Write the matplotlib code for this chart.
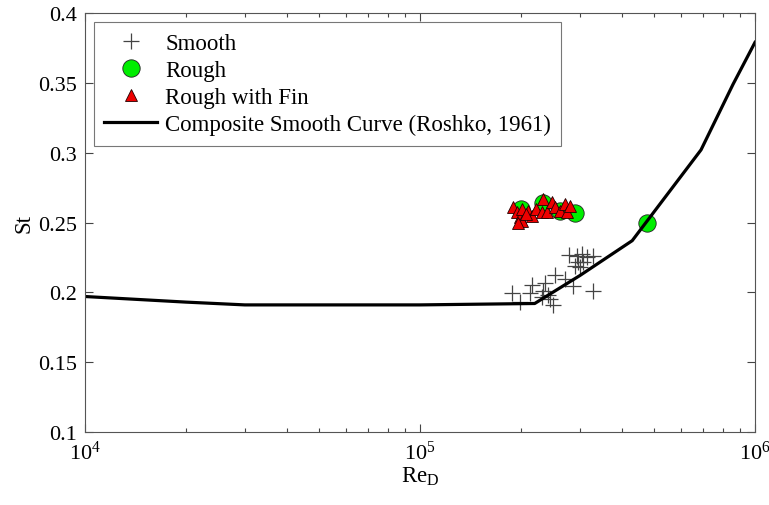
import numpy as np
import matplotlib
matplotlib.use('Agg')
import matplotlib.pyplot as plt
from matplotlib.ticker import LogLocator, NullFormatter, FixedLocator

plt.rcParams['font.family'] = ['Liberation Serif', 'DejaVu Serif']
plt.rcParams['mathtext.fontset'] = 'custom'
plt.rcParams['mathtext.rm'] = 'Liberation Serif'
plt.rcParams['mathtext.it'] = 'Liberation Serif:italic'

# Roshko (1961) composite smooth curve
curve_re = [1e4, 2e4, 3e4, 1e5, 2.2e5, 3e5, 4.3e5, 6.9e5, 8.6e5, 1e6]
curve_st = [0.197, 0.193, 0.191, 0.191, 0.192, 0.212, 0.237, 0.302, 0.349, 0.379]

# smooth cylinder
smooth_re = [1.88e5, 1.99e5, 2.16e5, 2.13e5, 2.36e5, 2.33e5, 2.41e5, 2.31e5, 2.49e5, 2.53e5,
             2.71e5, 2.86e5, 2.79e5, 2.94e5, 3.05e5, 3.15e5, 2.97e5, 3.07e5, 3.01e5, 2.90e5,
             3.28e5, 3.28e5, 2.44e5]
smooth_st = [0.1995, 0.1931, 0.2053, 0.1995, 0.2067, 0.2010, 0.1981, 0.1967, 0.1909, 0.2124,
             0.2095, 0.2045, 0.2267, 0.2260, 0.2274, 0.2253, 0.2217, 0.2217, 0.2181, 0.2188,
             0.2260, 0.2010, 0.1952]

# rough cylinder
rough_re = [2.0e5, 2.33e5, 2.62e5, 2.9e5, 4.75e5]
rough_st = [0.260, 0.264, 0.258, 0.257, 0.250]

# rough cylinder with fin
fin_re = [1.895e5, 1.948e5, 1.989e5, 2.016e5, 2.02e5, 2.10e5, 2.16e5, 2.22e5, 2.33e5, 2.31e5,
          2.39e5, 2.47e5, 2.53e5, 2.62e5, 2.71e5, 2.74e5, 2.81e5, 1.96e5, 2.07e5]
fin_st = [0.261, 0.2575, 0.254, 0.251, 0.2597, 0.258, 0.2546, 0.260, 0.2668, 0.2575,
          0.2575, 0.2647, 0.261, 0.258, 0.263, 0.2575, 0.2618, 0.2496, 0.256]

fig = plt.figure(figsize=(7.69, 5.06), dpi=100)
ax = fig.add_axes([0.1105, 0.1443, 0.8713, 0.828])

ax.plot(smooth_re, smooth_st, ls='none', marker='+', ms=11, mew=0.9, color='#444444', label='Smooth')
ax.plot(rough_re, rough_st, ls='none', marker='o', ms=12.5, mfc='#00ee00', mec='#222222', mew=0.6, label='Rough')
ax.plot(fin_re, fin_st, ls='none', marker='^', ms=8, mfc='#ee0000', mec='#220000', mew=0.6, label='Rough with Fin')
ax.plot(curve_re, curve_st, color='black', lw=2.3, label='Composite Smooth Curve (Roshko, 1961)')

ax.set_xscale('log')
ax.set_xlim(1e4, 1e6)
ax.set_ylim(0.1, 0.4)
ax.yaxis.set_major_locator(FixedLocator([0.1, 0.15, 0.2, 0.25, 0.3, 0.35, 0.4]))
ax.set_yticklabels(['0.1', '0.15', '0.2', '0.25', '0.3', '0.35', '0.4'])
ax.xaxis.set_major_locator(FixedLocator([1e4, 1e5, 1e6]))
ax.set_xticklabels([r'10$^{4}$', r'10$^{5}$', r'10$^{6}$'])
ax.xaxis.set_minor_locator(LogLocator(base=10, subs=np.arange(2, 10), numticks=20))
ax.xaxis.set_minor_formatter(NullFormatter())

ax.tick_params(which='both', direction='in', top=True, right=True, labelsize=16, colors='#444444', labelcolor='black')
ax.tick_params(which='major', length=6, width=0.8, pad=6)
ax.tick_params(which='minor', length=3, width=0.8)
for s in ax.spines.values():
    s.set_linewidth(0.8)
    s.set_color('#555555')

ax.set_xlabel(r'Re$_{\mathrm{D}}$', fontsize=16.5, labelpad=1)
ax.set_ylabel('St', fontsize=16.5, labelpad=2)

leg = ax.legend(loc='upper left', fontsize=16.5, frameon=True, fancybox=False, edgecolor='#555555',
                borderaxespad=0.4, handlelength=2.3, handletextpad=0.35, labelspacing=0.27, borderpad=0.45)
leg.get_frame().set_linewidth(0.8)

fig.savefig('out.png', dpi=100)
